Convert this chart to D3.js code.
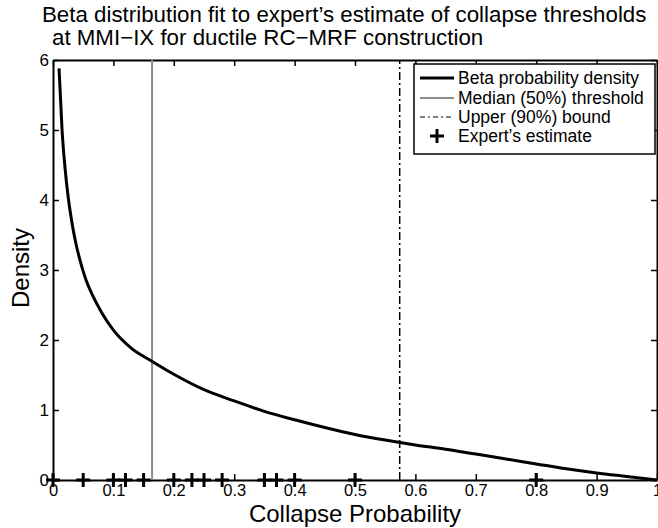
<!DOCTYPE html>
<html>
<head>
<meta charset="utf-8">
<script src="https://cdnjs.cloudflare.com/ajax/libs/d3/7.8.5/d3.min.js"></script>
<style>
    body { margin: 0; background: #fff; }
    text { font-family: "Liberation Sans", Arial, sans-serif; fill: #000; }
</style>
</head>
<body>
<svg id="chart" width="658" height="528"></svg>
<script>
// values
var probX = [0.01, 0.015, 0.02, 0.025, 0.03, 0.035, 0.04, 0.045, 0.05, 0.055, 0.066, 0.08, 0.1, 0.13, 0.163,
    0.2, 0.25, 0.3, 0.35, 0.4, 0.45, 0.5, 0.55, 0.6, 0.65, 0.7, 0.75, 0.8, 0.85, 0.9, 0.95, 1.0];
var densityY = [5.88, 5.0, 4.45, 4.05, 3.75, 3.5, 3.3, 3.13, 2.98, 2.85, 2.63, 2.4, 2.14, 1.88, 1.70,
    1.51, 1.29, 1.13, 0.98, 0.86, 0.75, 0.65, 0.57, 0.5, 0.44, 0.37, 0.3, 0.23, 0.16, 0.1, 0.05, 0.0];
var expertEstimates = [0, 0.05, 0.1, 0.12, 0.15, 0.2, 0.23, 0.25, 0.28, 0.35, 0.37, 0.4, 0.5, 0.8];
var medianThreshold = 0.164;
var upperBound = 0.574;
var xTicks = [0, 0.1, 0.2, 0.3, 0.4, 0.5, 0.6, 0.7, 0.8, 0.9, 1];
var yTicks = [0, 1, 2, 3, 4, 5, 6];
var legendLabels = ["Beta probability density", "Median (50%) threshold", "Upper (90%) bound", "Expert\u2019s estimate"];

var svg = d3.select("#chart");
var plotLeft = 53, plotRight = 657, plotTop = 60, plotBottom = 480;

var x = d3.scaleLinear().domain([0, 1]).range([plotLeft, plotRight]);
var y = d3.scaleLinear().domain([0, 6]).range([plotBottom, plotTop]);

// title
svg.append("text").attr("x", 42).attr("y", 22).attr("font-size", 22.3)
    .text("Beta distribution fit to expert\u2019s estimate of collapse thresholds");
svg.append("text").attr("x", 52).attr("y", 45).attr("font-size", 22.3)
    .text("at MMI\u2212IX for ductile RC\u2212MRF construction");

// axes, ticks pointing inward like matlab
var tickLen = 6;
var fmt = function(d) { return d3.format("")(d); };
svg.append("g").attr("transform", "translate(0," + plotBottom + ")")
    .call(d3.axisBottom(x).tickValues(xTicks).tickSizeInner(-tickLen).tickSizeOuter(0).tickPadding(2).tickFormat(fmt))
    .call(g => g.selectAll("text").attr("font-size", 16.5).attr("font-family", "Liberation Sans, Arial, sans-serif").attr("dy", "0.85em"));
svg.append("g").attr("transform", "translate(0," + plotTop + ")")
    .call(d3.axisTop(x).tickValues(xTicks).tickSizeInner(-tickLen).tickSizeOuter(0).tickFormat(""));
svg.append("g").attr("transform", "translate(" + plotLeft + ",0)")
    .call(d3.axisLeft(y).tickValues(yTicks).tickSizeInner(-tickLen).tickSizeOuter(0).tickPadding(4).tickFormat(fmt))
    .call(g => g.selectAll("text").attr("font-size", 17).attr("font-family", "Liberation Sans, Arial, sans-serif"));
svg.append("g").attr("transform", "translate(" + plotRight + ",0)")
    .call(d3.axisRight(y).tickValues(yTicks).tickSizeInner(-tickLen).tickSizeOuter(0).tickFormat(""));
svg.selectAll(".domain").attr("stroke", "#000").attr("stroke-width", 2);
svg.selectAll(".tick line").attr("stroke", "#000").attr("stroke-width", 1.5);

// axis labels
svg.append("text").attr("x", (plotLeft + plotRight) / 2).attr("y", 522).attr("text-anchor", "middle")
    .attr("font-size", 24).text("Collapse Probability");
svg.append("text").attr("transform", "translate(29,268) rotate(-90)").attr("text-anchor", "middle")
    .attr("font-size", 24).text("Density");

// median and upper bound lines
svg.append("line").attr("x1", x(medianThreshold)).attr("x2", x(medianThreshold))
    .attr("y1", y(0)).attr("y2", y(6)).attr("stroke", "#8c8c8c").attr("stroke-width", 2);
svg.append("line").attr("x1", x(upperBound)).attr("x2", x(upperBound))
    .attr("y1", y(0)).attr("y2", y(6)).attr("stroke", "#000").attr("stroke-width", 1.5)
    .attr("stroke-dasharray", "8,3,2,3");

// beta density curve
var pts = probX.map((d, i) => [d, densityY[i]]);
svg.append("path").datum(pts)
    .attr("d", d3.line().x(d => x(d[0])).y(d => y(d[1])).curve(d3.curveMonotoneX))
    .attr("fill", "none").attr("stroke", "#000").attr("stroke-width", 3);

// expert estimates as plus markers
var plus = svg.append("g").selectAll("g").data(expertEstimates).enter().append("g")
    .attr("transform", d => "translate(" + x(d) + "," + y(0) + ")");
plus.append("line").attr("x1", -7).attr("x2", 7).attr("stroke", "#000").attr("stroke-width", 3);
plus.append("line").attr("y1", -7).attr("y2", 7).attr("stroke", "#000").attr("stroke-width", 3);

// legend
var lg = svg.append("g").attr("transform", "translate(414,64)");
lg.append("rect").attr("width", 241).attr("height", 90).attr("fill", "#fff")
    .attr("stroke", "#000").attr("stroke-width", 1.5);
var rowY = [14, 34, 53, 72];
lg.append("line").attr("x1", 6).attr("x2", 40).attr("y1", rowY[0]).attr("y2", rowY[0])
    .attr("stroke", "#000").attr("stroke-width", 3);
lg.append("line").attr("x1", 6).attr("x2", 40).attr("y1", rowY[1]).attr("y2", rowY[1])
    .attr("stroke", "#8c8c8c").attr("stroke-width", 2);
lg.append("line").attr("x1", 6).attr("x2", 40).attr("y1", rowY[2]).attr("y2", rowY[2])
    .attr("stroke", "#000").attr("stroke-width", 1.2).attr("stroke-dasharray", "5,3,2,3");
lg.append("line").attr("x1", 16).attr("x2", 30).attr("y1", rowY[3]).attr("y2", rowY[3])
    .attr("stroke", "#000").attr("stroke-width", 3);
lg.append("line").attr("x1", 23).attr("x2", 23).attr("y1", rowY[3] - 7).attr("y2", rowY[3] + 7)
    .attr("stroke", "#000").attr("stroke-width", 3);
lg.selectAll("text.lab").data(legendLabels).enter().append("text").attr("class", "lab")
    .attr("x", 44).attr("y", (d, i) => rowY[i]).attr("dy", "0.35em").attr("font-size", 17.5)
    .text(d => d);
</script>
</body>
</html>
